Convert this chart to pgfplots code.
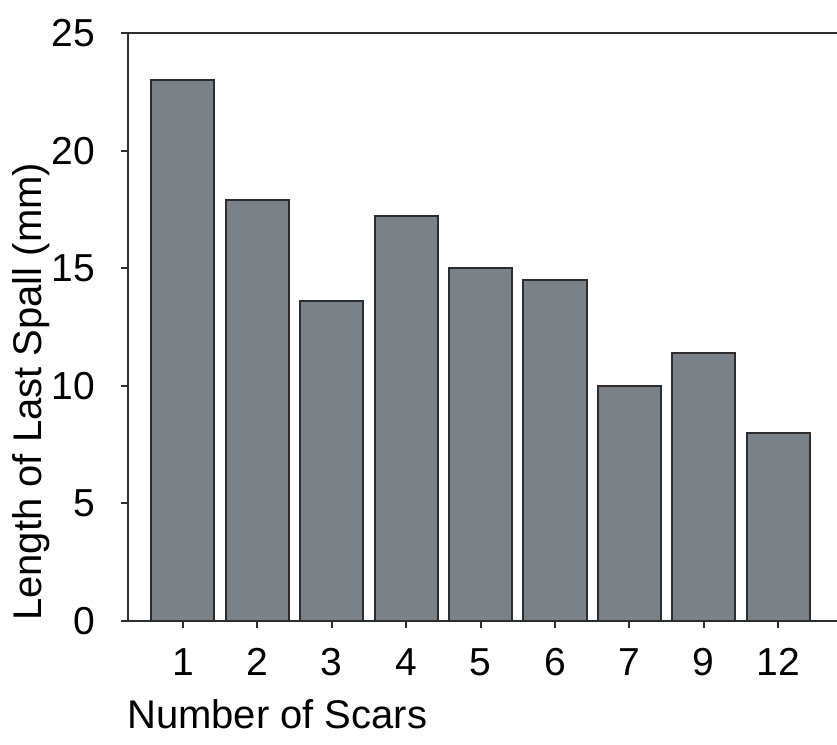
\documentclass[border=0pt]{standalone}
\usepackage{pgfplots}
\pgfplotsset{compat=1.18}
\usepackage{fontspec}
\setmainfont{Liberation Sans}
\definecolor{barcol}{RGB}{122,129,135}
\definecolor{linecol}{RGB}{45,45,45}
\begin{document}
\begin{tikzpicture}
\begin{axis}[
  name=ax,
  scale only axis,
  width=709pt, height=588pt,
  xmin=-0.739, xmax=8.79,
  ymin=0, ymax=25,
  ytick={0,5,10,15,20,25},
  xtick=data,
  xticklabels={1,2,3,4,5,6,7,9,12},
  axis x line=box, axis y line=left,
  axis line style={-, line width=2pt, draw=linecol},
  xtick pos=lower, ytick pos=left,
  tick align=outside,
  major tick length=7pt,
  every tick/.style={line width=2pt, draw=linecol},
  /pgf/number format/assume math mode=true,
  tick label style={font=\fontsize{39}{46}\selectfont, inner sep=0pt},
  yticklabel style={xshift=-26pt},
  xticklabel style={yshift=-20pt},
  ybar, bar width=0.847,
  clip=false,
]
\addplot[fill=barcol, draw=linecol, line width=2pt] coordinates {
  (0,23.0) (1,17.9) (2,13.6) (3,17.2) (4,15.0) (5,14.5) (6,10.0) (7,11.4) (8,8.0)
};
\end{axis}
\node[rotate=90, anchor=south west, inner sep=0pt, font=\fontsize{40}{48}\selectfont]
  at ([xshift=-78pt]ax.south west) {Length of Last Spall (mm)};
\node[anchor=base west, inner sep=0pt, font=\fontsize{40}{48}\selectfont]
  at ([xshift=-1pt,yshift=-108pt]ax.south west) {Number of Scars};
\pgfresetboundingbox
\path ([xshift=-128pt,yshift=-124pt]ax.south west) rectangle ([yshift=33pt]ax.north east);
\end{tikzpicture}
\end{document}
